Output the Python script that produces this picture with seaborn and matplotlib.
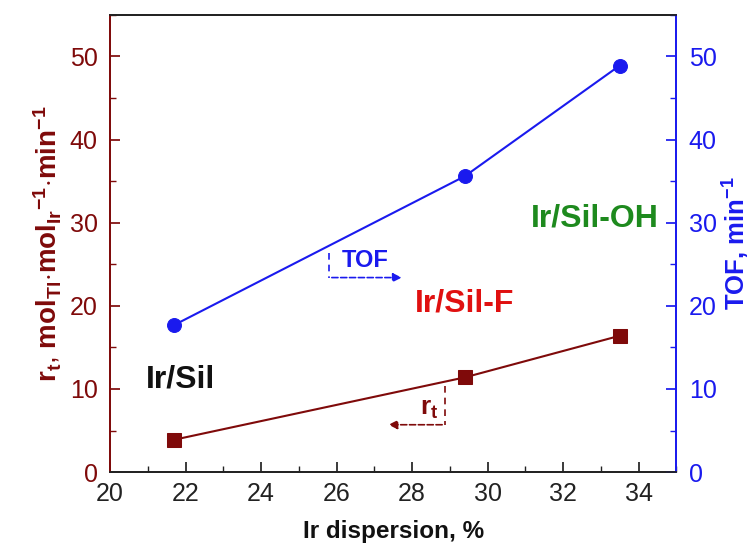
import matplotlib
matplotlib.use("Agg")
import matplotlib.pyplot as plt
import seaborn as sns
import pandas as pd
from matplotlib.ticker import MultipleLocator

dispersion = [21.7, 29.4, 33.5]
rt_values = [3.9, 11.4, 16.4]
tof_values = [17.7, 35.6, 48.9]
sample_labels = ["Ir/Sil", "Ir/Sil-F", "Ir/Sil-OH"]

df = pd.DataFrame({"disp": dispersion, "rt": rt_values, "tof": tof_values})

sns.set_theme(style="ticks")
plt.rcParams['font.family'] = ['Liberation Sans', 'DejaVu Sans']
plt.rcParams['mathtext.fontset'] = 'custom'
plt.rcParams['mathtext.rm'] = 'Liberation Sans'
plt.rcParams['mathtext.bf'] = 'Liberation Sans:bold'
plt.rcParams['mathtext.it'] = 'Liberation Sans:italic'

RED = '#7f0a0a'
BLUE = '#1a1aee'
GREEN = '#1e8a1e'

fig = plt.figure(figsize=(7.54, 5.49), dpi=100)
ax = fig.add_axes([0.146, 0.140, 0.751, 0.833])
ax2 = ax.twinx()

sns.lineplot(data=df, x="disp", y="rt", ax=ax, color=RED, lw=1.5, marker='s',
             markersize=9.5, markeredgecolor=RED, markerfacecolor=RED)
sns.lineplot(data=df, x="disp", y="tof", ax=ax2, color=BLUE, lw=1.5, marker='o',
             markersize=10, markeredgecolor=BLUE, markerfacecolor=BLUE)

ax.set_xlim(20, 35)
ax.set_ylim(0, 55)
ax2.set_ylim(0, 55)

ax.xaxis.set_major_locator(MultipleLocator(2))
ax.xaxis.set_minor_locator(MultipleLocator(1))
for a in (ax, ax2):
    a.yaxis.set_major_locator(MultipleLocator(10))
    a.yaxis.set_minor_locator(MultipleLocator(5))

ax.tick_params(axis='x', which='both', direction='in', colors='#222222', labelsize=18, pad=7, top=False)
ax.tick_params(axis='x', which='major', length=7)
ax.tick_params(axis='x', which='minor', length=4)
ax.tick_params(axis='y', which='both', direction='in', colors=RED, labelsize=18, pad=9)
ax.tick_params(axis='y', which='major', length=7)
ax.tick_params(axis='y', which='minor', length=4)
ax2.tick_params(axis='y', which='both', direction='in', colors=BLUE, labelsize=18, pad=9)
ax2.tick_params(axis='y', which='major', length=7)
ax2.tick_params(axis='y', which='minor', length=4)

for a in (ax, ax2):
    a.spines['top'].set_color('#222222')
    a.spines['bottom'].set_color('#222222')
    a.spines['left'].set_color(RED)
    a.spines['right'].set_color(BLUE)
    for s in a.spines.values():
        s.set_linewidth(1.3)
    a.spines['top'].set_visible(True)
    a.spines['right'].set_visible(True)

ax.set_xlabel("Ir dispersion, %", fontsize=17.5, fontweight='bold', color='#111111', labelpad=10)
ax.set_ylabel(r"$\mathbf{r_t}$, $\mathbf{mol_{Tl}}$$\mathbf{\cdot}$$\mathbf{mol_{Ir}}^{\mathbf{-1}}$$\mathbf{\cdot}$$\mathbf{min^{-1}}$",
              fontsize=20, color=RED, labelpad=4)
ax2.set_ylabel(r"TOF, min$^{\mathbf{-1}}$", fontsize=18.5, fontweight='bold', color=BLUE, labelpad=3)

# sample labels
ax.text(21.87, 11.1, sample_labels[0], fontsize=23, fontweight='bold', color='#111111', ha='center', va='center')
ax.text(29.4, 20.3, sample_labels[1], fontsize=23, fontweight='bold', color='#e01010', ha='center', va='center')
ax.text(32.85, 30.5, sample_labels[2], fontsize=23, fontweight='bold', color=GREEN, ha='center', va='center')

# TOF dashed arrow
ax.plot([25.8, 25.8], [26.3, 23.4], ls='--', color=BLUE, lw=1.2, dashes=(4, 3))
ax.annotate("", xy=(27.8, 23.4), xytext=(25.8, 23.4),
            arrowprops=dict(arrowstyle='-|>', color=BLUE, lw=1.2, ls='--', mutation_scale=13))
ax.text(26.15, 25.4, "TOF", fontsize=17, fontweight='bold', color=BLUE, ha='left', va='center')

# rt dashed arrow
ax.plot([28.87, 28.87], [10.3, 5.7], ls='--', color=RED, lw=1.2, dashes=(4, 3))
ax.annotate("", xy=(27.3, 5.7), xytext=(28.87, 5.7),
            arrowprops=dict(arrowstyle='-|>', color=RED, lw=1.2, ls='--', mutation_scale=13))
ax.text(28.45, 7.6, r"$\mathbf{r_t}$", fontsize=19, color=RED, ha='center', va='center')

fig.savefig("out.png", dpi=100)
